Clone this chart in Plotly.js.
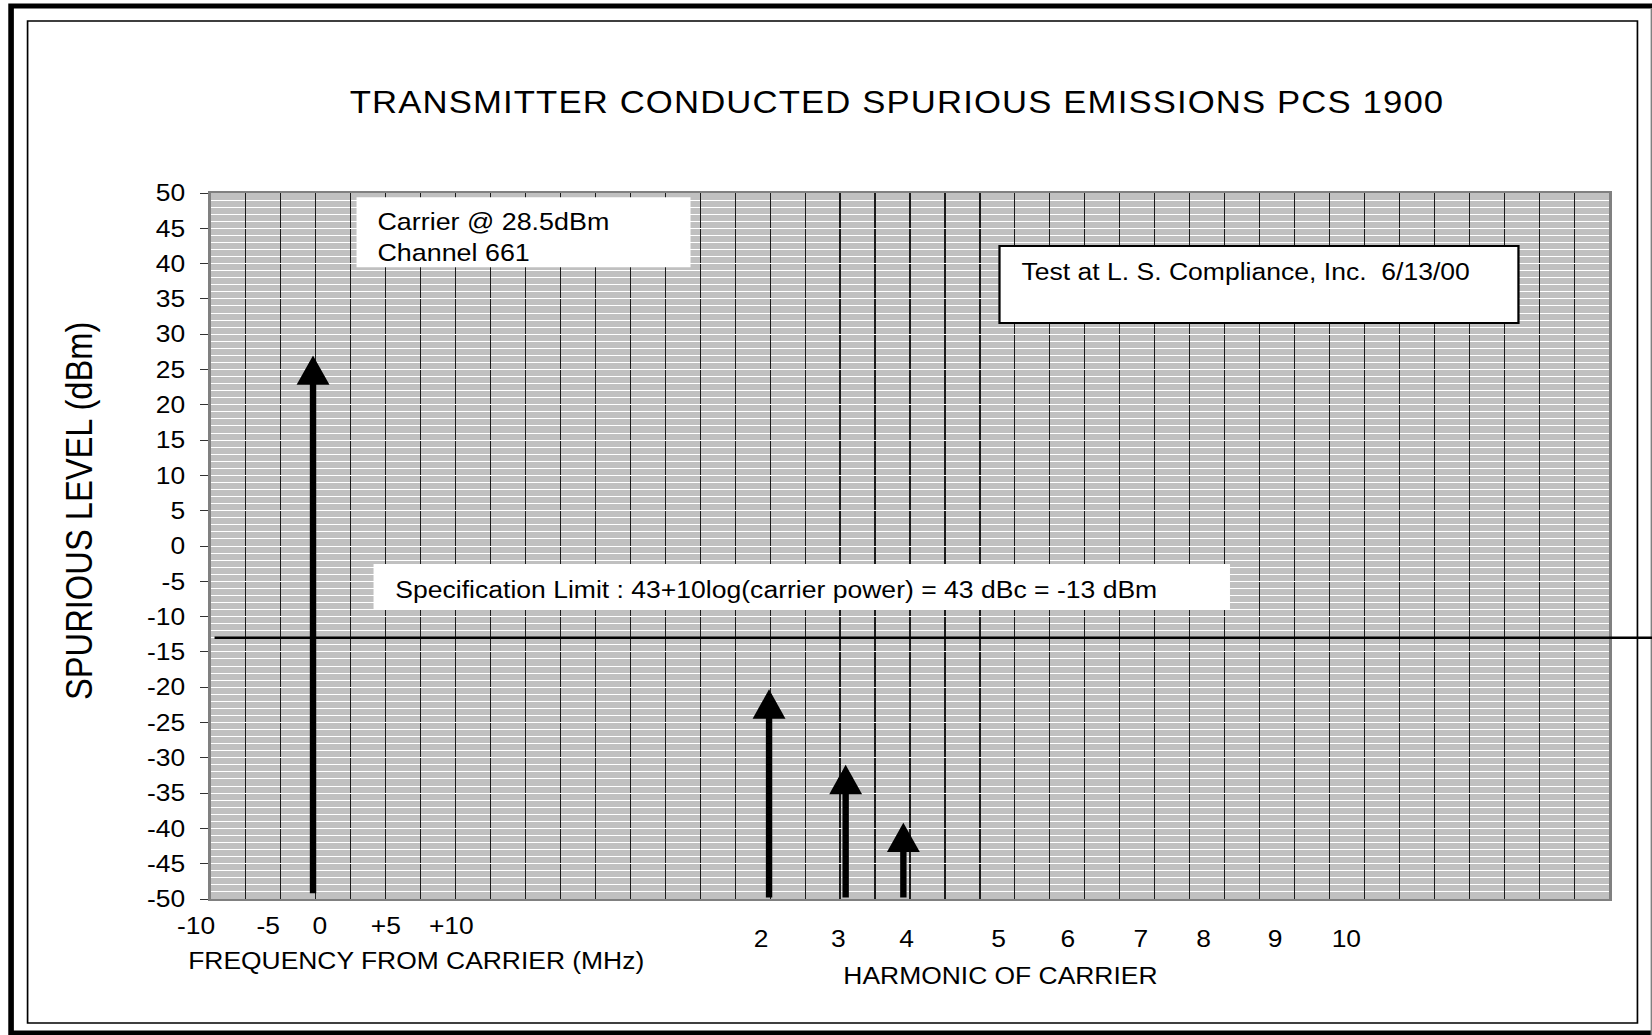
<!DOCTYPE html>
<html>
<head>
<meta charset="utf-8">
<script src="https://cdn.plot.ly/plotly-3.0.1.min.js"></script>
<style>
  html, body { margin: 0; padding: 0; background: #ffffff; overflow: hidden; width: 1652px; height: 1035px; }
  #chart { width: 1475px; height: 1035px; transform: scaleX(1.12); transform-origin: 0 0; }
  .gtitle { letter-spacing: 1px; }
</style>
</head>
<body>
<div id="chart"></div>
<script>
// ---------------- data ----------------
const xRange = [0, 40];            // 40 grid columns across the plot
const yRange = [-50, 50];          // spurious level, dBm
const yTickVals = [-50, -45, -40, -35, -30, -25, -20, -15, -10, -5, 0, 5, 10, 15, 20, 25, 30, 35, 40, 45, 50];
const yTickText = ['-50', '-45', '-40', '-35', '-30', '-25', '-20', '-15', '-10', '-5', '0', '5', '10', '15', '20', '25', '30', '35', '40', '45', '50'];

const emissionNames  = ['Carrier', 'Harmonic 2', 'Harmonic 3', 'Harmonic 4'];
const emissionPos    = [2.93, 15.97, 18.16, 19.81];   // position along the x axis (grid columns)
const emissionLevel  = [27.0, -20.3, -31.0, -39.2];   // arrow tip, dBm
const emissionFloor  = [-49.4, -50, -50, -50];        // arrow tail, dBm

const specLimit = -13;             // dBm

const freqTickLabels = ['-10', '-5', '0', '+5', '+10'];
const freqTickPos    = [-0.41, 1.64, 3.12, 5.00, 6.88];
const harmTickLabels = ['2', '3', '4', '5', '6', '7', '8', '9', '10'];
const harmTickPos    = [15.75, 17.94, 19.89, 22.53, 24.50, 26.59, 28.39, 30.45, 32.48];

const titleText  = 'TRANSMITTER CONDUCTED SPURIOUS EMISSIONS PCS 1900';
const yTitleText = 'SPURIOUS LEVEL (dBm)';
const xTitle1    = 'FREQUENCY FROM CARRIER (MHz)';
const xTitle2    = 'HARMONIC OF CARRIER';
const carrierNote = 'Carrier @ 28.5dBm<br>Channel 661';
const testNote    = 'Test at L. S. Compliance, Inc.\u00a0\u00a06/13/00';
const specNote    = 'Specification Limit : 43+10log(carrier power) = 43 dBc = -13 dBm';

// ---------------- layout helpers ----------------
const FONT = '"Liberation Sans", Arial, Helvetica, sans-serif';
const S = 1.12, W = 1475, H = 1035;
const M = { l: 187.5, r: 38.4, t: 193, b: 136 };
const PW = W - M.l - M.r;
const PH = H - M.t - M.b;
const X = fx => (fx / S - M.l) / PW;         // page pixel -> paper x
const Y = fy => (H - M.b - fy) / PH;         // page pixel -> paper y
const colFrac = v => (v - xRange[0]) / (xRange[1] - xRange[0]);

const annotations = [];

// arrows (emissions)
emissionPos.forEach((xp, i) => {
  annotations.push({
    x: xp, y: emissionLevel[i], xref: 'x', yref: 'y',
    ax: xp, ay: emissionFloor[i], axref: 'x', ayref: 'y',
    text: '', showarrow: true, arrowhead: 2, arrowsize: 1.03, arrowwidth: 5.7,
    arrowcolor: '#000000', standoff: 0, startstandoff: 0, font: { size: 1 }
  });
});

// tick labels along the bottom
freqTickLabels.forEach((t, i) => {
  annotations.push({ text: t, xref: 'paper', yref: 'paper', x: colFrac(freqTickPos[i]), y: Y(926),
    xanchor: 'center', yanchor: 'middle', showarrow: false, borderpad: 0,
    font: { family: FONT, size: 23.6, color: '#000' } });
});
harmTickLabels.forEach((t, i) => {
  annotations.push({ text: t, xref: 'paper', yref: 'paper', x: colFrac(harmTickPos[i]), y: Y(938.5),
    xanchor: 'center', yanchor: 'middle', showarrow: false, borderpad: 0,
    font: { family: FONT, size: 23.6, color: '#000' } });
});

// axis titles
annotations.push({ text: xTitle1, xref: 'paper', yref: 'paper', x: X(416), y: Y(961),
  xanchor: 'center', yanchor: 'middle', showarrow: false, font: { family: FONT, size: 23.6, color: '#000' } });
annotations.push({ text: xTitle2, xref: 'paper', yref: 'paper', x: X(1000), y: Y(976),
  xanchor: 'center', yanchor: 'middle', showarrow: false, font: { family: FONT, size: 23.6, color: '#000' } });
annotations.push({ text: yTitleText, xref: 'paper', yref: 'paper', x: X(79), y: Y(511), textangle: -90,
  xanchor: 'center', yanchor: 'middle', showarrow: false, font: { family: FONT, size: 32.7, color: '#000' } });

// notes inside the plot
annotations.push({ text: carrierNote, xref: 'paper', yref: 'paper', x: X(376), y: Y(237.4),
  xanchor: 'left', yanchor: 'middle', align: 'left', showarrow: false, borderpad: 0,
  font: { family: FONT, size: 24, color: '#000' } });
annotations.push({ text: testNote, xref: 'paper', yref: 'paper', x: X(1020), y: Y(271.8),
  xanchor: 'left', yanchor: 'middle', align: 'left', showarrow: false, borderpad: 0,
  font: { family: FONT, size: 23.7, color: '#000' } });
annotations.push({ text: specNote, xref: 'paper', yref: 'paper', x: X(394), y: Y(590),
  xanchor: 'left', yanchor: 'middle', align: 'left', showarrow: false, borderpad: 0,
  font: { family: FONT, size: 23.7, color: '#000' } });

const shapes = [
  // outer thick frame and inner thin frame
  { type: 'rect', xref: 'paper', yref: 'paper', x0: X(10.5), x1: X(1680), y0: Y(1033), y1: Y(6),
    line: { color: '#000', width: 5 }, fillcolor: 'rgba(0,0,0,0)', layer: 'below' },
  { type: 'line', xref: 'paper', yref: 'paper', x0: X(1651), x1: X(1651), y0: Y(1035), y1: Y(9),
    line: { color: '#808080', width: 1.5 }, layer: 'below' },
  { type: 'rect', xref: 'paper', yref: 'paper', x0: X(27), x1: X(1637), y0: Y(1023), y1: Y(21),
    line: { color: '#000', width: 1.5 }, fillcolor: 'rgba(0,0,0,0)', layer: 'below' },
  // note boxes
  { type: 'rect', xref: 'paper', yref: 'paper', x0: X(356), x1: X(690), y0: Y(267.3), y1: Y(197.3),
    line: { width: 0 }, fillcolor: '#ffffff', layer: 'above' },
  { type: 'rect', xref: 'paper', yref: 'paper', x0: X(999), x1: X(1518), y0: Y(323), y1: Y(246),
    line: { color: '#000', width: 2 }, fillcolor: '#ffffff', layer: 'above' },
  { type: 'rect', xref: 'paper', yref: 'paper', x0: X(373), x1: X(1229.5), y0: Y(610), y1: Y(564),
    line: { width: 0 }, fillcolor: '#ffffff', layer: 'above' },
  // specification limit line
  { type: 'line', xref: 'paper', yref: 'y', x0: X(214), x1: X(1700), y0: specLimit, y1: specLimit,
    line: { color: '#000', width: 2.4 }, layer: 'above' }
];

const traces = [{
  type: 'scatter', mode: 'markers', name: 'emissions',
  x: emissionPos, y: emissionLevel, text: emissionNames,
  marker: { size: 1, opacity: 0 }, hoverinfo: 'skip', showlegend: false
}];

const layout = {
  width: W, height: H, autosize: false,
  margin: M,
  paper_bgcolor: '#ffffff', plot_bgcolor: '#c0c0c0',
  showlegend: false,
  title: { text: titleText, xref: 'paper', x: X(896.5), xanchor: 'center',
           yref: 'container', y: 1 - 102 / H, yanchor: 'middle',
           font: { family: FONT, size: 31, color: '#000' } },
  xaxis: {
    range: xRange, tickmode: 'linear', tick0: 0, dtick: 1,
    showticklabels: false, ticks: '', showgrid: true, gridcolor: '#1a1a1a', gridwidth: 1,
    zeroline: false, showline: true, mirror: true, linecolor: '#808080', linewidth: 2, fixedrange: true
  },
  yaxis: {
    range: yRange, tickmode: 'array', tickvals: yTickVals, ticktext: yTickText,
    ticks: 'outside', ticklen: 7, tickwidth: 1, tickcolor: '#333',
    ticklabelstandoff: 9,
    tickfont: { family: FONT, size: 23.6, color: '#000' },
    showgrid: true, gridcolor: '#ffffff', gridwidth: 1,
    minor: { tickmode: 'linear', tick0: 0, dtick: 1, showgrid: true, gridcolor: '#ffffff', gridwidth: 1, ticks: '' },
    zeroline: false, showline: true, mirror: true, linecolor: '#808080', linewidth: 2, fixedrange: true
  },
  shapes: shapes,
  annotations: annotations
};

Plotly.newPlot('chart', traces, layout, { staticPlot: true, displayModeBar: false });
</script>
</body>
</html>
